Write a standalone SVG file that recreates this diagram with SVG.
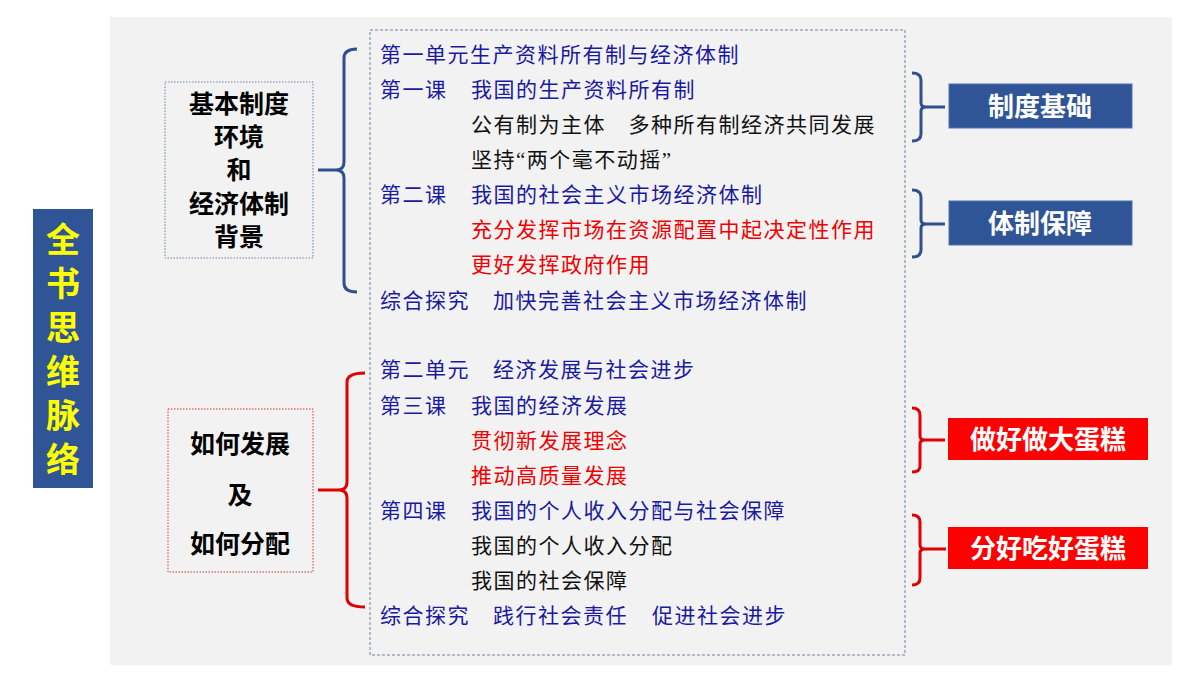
<svg xmlns="http://www.w3.org/2000/svg" width="1200" height="675" viewBox="0 0 1200 675">
<style>
.t{font-family:"Liberation Serif","Noto Sans CJK SC",serif;font-size:21px;letter-spacing:1.5px}
.b{fill:#1a1aa0}.k{fill:#111}.r{fill:#f00000}
.h{font-family:"Noto Sans CJK SC",sans-serif;font-weight:bold;font-size:25px;fill:#000;text-anchor:middle}
.w{font-family:"Noto Sans CJK SC",sans-serif;font-weight:bold;font-size:26px;fill:#fff;text-anchor:middle}
.bb{fill:none;stroke:#2f4f8f;stroke-width:3}
.rb{fill:none;stroke:#e00000;stroke-width:3}
</style>
<rect width="1200" height="675" fill="#fff"/>
<rect x="110" y="17" width="1062" height="648" fill="#f2f2f2"/>
<g id="title">
<rect x="33" y="209" width="60" height="279" fill="#2f5597"/>
<text font-family="Noto Sans CJK SC,sans-serif" font-weight="bold" font-size="34" fill="#ffff00" text-anchor="middle"><tspan x="63" y="252">全</tspan><tspan x="63" y="296">书</tspan><tspan x="63" y="340">思</tspan><tspan x="63" y="384">维</tspan><tspan x="63" y="428">脉</tspan><tspan x="63" y="472">络</tspan></text>
</g>
<g id="box1">
<rect x="165" y="82" width="148" height="176" fill="none" stroke="#7080a0" stroke-width="1" stroke-dasharray="1.5 1.5"/>
<text class="h"><tspan x="239" y="113">基本制度</tspan><tspan x="239" y="146">环境</tspan><tspan x="239" y="179">和</tspan><tspan x="239" y="213">经济体制</tspan><tspan x="239" y="246">背景</tspan></text>
</g>
<g id="box2">
<rect x="168" y="409" width="145" height="163" fill="none" stroke="#e03030" stroke-width="1" stroke-dasharray="1.5 1.5"/>
<text class="h"><tspan x="240" y="453">如何发展</tspan><tspan x="240" y="504">及</tspan><tspan x="240" y="553">如何分配</tspan></text>
</g>
<g id="content">
<rect x="370" y="30" width="535" height="625" fill="none" stroke="#7080a0" stroke-width="1" stroke-dasharray="3 2"/>
<text class="t b" x="380" y="62">第一单元生产资料所有制与经济体制</text>
<text class="t b" x="380" y="97">第一课</text><text class="t b" x="471" y="97">我国的生产资料所有制</text>
<text class="t k" x="471" y="132">公有制为主体　多种所有制经济共同发展</text>
<text class="t k" x="471" y="167">坚持“两个毫不动摇”</text>
<text class="t b" x="380" y="202">第二课</text><text class="t b" x="471" y="202">我国的社会主义市场经济体制</text>
<text class="t r" x="471" y="237">充分发挥市场在资源配置中起决定性作用</text>
<text class="t r" x="471" y="272">更好发挥政府作用</text>
<text class="t b" x="380" y="308">综合探究</text><text class="t b" x="493" y="308">加快完善社会主义市场经济体制</text>
<text class="t b" x="380" y="377">第二单元</text><text class="t b" x="493" y="377">经济发展与社会进步</text>
<text class="t b" x="380" y="413">第三课</text><text class="t b" x="471" y="413">我国的经济发展</text>
<text class="t r" x="471" y="448">贯彻新发展理念</text>
<text class="t r" x="471" y="483">推动高质量发展</text>
<text class="t b" x="380" y="518">第四课</text><text class="t b" x="471" y="518">我国的个人收入分配与社会保障</text>
<text class="t k" x="471" y="553">我国的个人收入分配</text>
<text class="t k" x="471" y="588">我国的社会保障</text>
<text class="t b" x="380" y="623">综合探究</text><text class="t b" x="493" y="623">践行社会责任</text><text class="t b" x="652" y="623">促进社会进步</text>
</g>
<g id="tag1"><rect x="949" y="84" width="183" height="44" fill="#2f5597" stroke="#5070b0"/><text class="w" x="1040" y="116">制度基础</text></g>
<g id="tag2"><rect x="949" y="201" width="183" height="44" fill="#2f5597" stroke="#5070b0"/><text class="w" x="1040" y="233">体制保障</text></g>
<g id="tag3"><rect x="948" y="418" width="200" height="42" fill="#ff0000"/><text class="w" x="1048" y="449">做好做大蛋糕</text></g>
<g id="tag4"><rect x="948" y="527" width="200" height="42" fill="#ff0000"/><text class="w" x="1048" y="558">分好吃好蛋糕</text></g>
<g id="connectors">
<path class="bb" d="M357,49 Q344,49 344,58 L344,162 Q344,170 336,170 L318,170 M336,170 Q344,170 344,178 L344,283 Q344,292 357,292"/>
<path class="rb" d="M365,373 Q347,373 347,382 L347,482 Q347,490 339,490 L318,490 M339,490 Q347,490 347,498 L347,598 Q347,607 365,607"/>
<path class="bb" d="M912,73 Q921,73 921,80 L921,103 Q921,107 926,107 L945,107 M926,107 Q921,107 921,111 L921,134 Q921,141 912,141"/>
<path class="bb" d="M912,190 Q921,190 921,197 L921,220 Q921,224 926,224 L945,224 M926,224 Q921,224 921,228 L921,250 Q921,257 912,257"/>
<path class="rb" d="M912,408 Q920,408 920,415 L920,436 Q920,440 925,440 L945,440 M925,440 Q920,440 920,444 L920,466 Q920,472 912,472"/>
<path class="rb" d="M912,515 Q920,515 920,522 L920,545 Q920,549 925,549 L946,549 M925,549 Q920,549 920,553 L920,578 Q920,585 912,585"/>
</g>
</svg>
